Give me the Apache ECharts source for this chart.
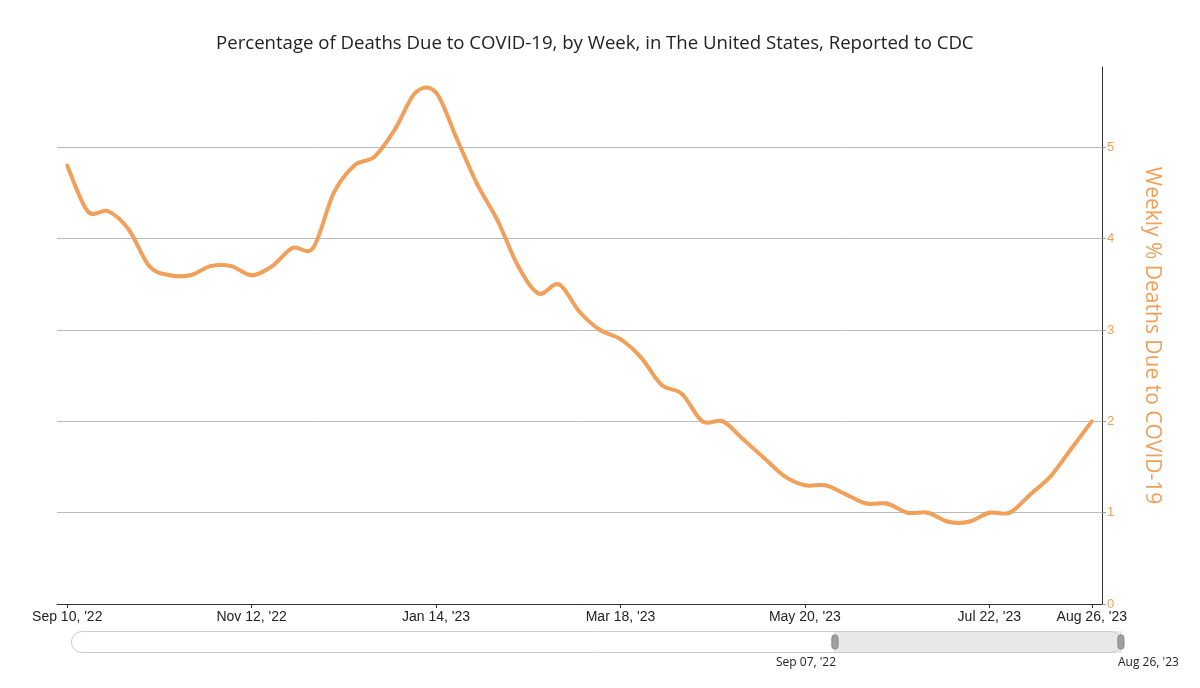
<!DOCTYPE html>
<html>
<head>
<meta charset="utf-8">
<script src="https://cdn.jsdelivr.net/npm/echarts@6/dist/echarts.min.js"></script>
<style>
html,body{margin:0;padding:0;background:#ffffff;}
#chart{width:1200px;height:688px;}
</style>
</head>
<body>
<div id="chart"></div>
<script>
// Week ending dates (category axis)
const weeks = [
  "Sep 10, '22","Sep 17, '22","Sep 24, '22","Oct 01, '22","Oct 08, '22","Oct 15, '22","Oct 22, '22","Oct 29, '22",
  "Nov 05, '22","Nov 12, '22","Nov 19, '22","Nov 26, '22","Dec 03, '22","Dec 10, '22","Dec 17, '22","Dec 24, '22",
  "Dec 31, '22","Jan 07, '23","Jan 14, '23","Jan 21, '23","Jan 28, '23","Feb 04, '23","Feb 11, '23","Feb 18, '23",
  "Feb 25, '23","Mar 04, '23","Mar 11, '23","Mar 18, '23","Mar 25, '23","Apr 01, '23","Apr 08, '23","Apr 15, '23",
  "Apr 22, '23","Apr 29, '23","May 06, '23","May 13, '23","May 20, '23","May 27, '23","Jun 03, '23","Jun 10, '23",
  "Jun 17, '23","Jun 24, '23","Jul 01, '23","Jul 08, '23","Jul 15, '23","Jul 22, '23","Jul 29, '23","Aug 05, '23",
  "Aug 12, '23","Aug 19, '23","Aug 26, '23"
];
// Weekly % of deaths due to COVID-19
const pctDeaths = [
  4.8, 4.3, 4.3, 4.1, 3.7, 3.6, 3.6, 3.7,
  3.7, 3.6, 3.7, 3.9, 3.9, 4.5, 4.8, 4.9,
  5.2, 5.6, 5.6, 5.1, 4.6, 4.2, 3.7, 3.4,
  3.5, 3.2, 3.0, 2.9, 2.7, 2.4, 2.3, 2.0,
  2.0, 1.8, 1.6, 1.4, 1.3, 1.3, 1.2, 1.1,
  1.1, 1.0, 1.0, 0.9, 0.9, 1.0, 1.0, 1.2,
  1.4, 1.7, 2.0
];
// Which weeks get an x tick label
const xTickLabels = ["Sep 10, '22","Nov 12, '22","Jan 14, '23","Mar 18, '23","May 20, '23","Jul 22, '23","Aug 26, '23"];
// Y axis ticks
const yTicks = [0, 1, 2, 3, 4, 5];
const yMax = 5.88;
// Range slider state and labels
const sliderRange = [72.6, 100];
const sliderLabels = ["Sep 07, '22", "Aug 26, '23"];

const orange = '#f0a05a';
const tickSet = new Set(xTickLabels.map(l => weeks.indexOf(l)));
const showTick = (idx) => tickSet.has(idx);

const chart = echarts.init(document.getElementById('chart'), null, {renderer: 'canvas'});

// Catmull-Rom style smooth curve through the data points, positioned by the axes' scales
function renderCurve(params, api) {
  if (params.dataIndex !== 0) return null;
  const pts = pctDeaths.map((v, i) => api.coord([i, v]));
  const n = pts.length;
  const children = [];
  for (let i = 0; i < n - 1; i++) {
    const p0 = pts[Math.max(i - 1, 0)];
    const p1 = pts[i];
    const p2 = pts[i + 1];
    const p3 = pts[Math.min(i + 2, n - 1)];
    children.push({
      type: 'bezierCurve',
      shape: {
        x1: p1[0], y1: p1[1],
        x2: p2[0], y2: p2[1],
        cpx1: p1[0] + (p2[0] - p0[0]) / 6,
        cpy1: p1[1] + (p2[1] - p0[1]) / 6,
        cpx2: p2[0] - (p3[0] - p1[0]) / 6,
        cpy2: p2[1] - (p3[1] - p1[1]) / 6
      },
      style: {stroke: orange, lineWidth: 4, fill: null, lineCap: 'round'}
    });
  }
  return {type: 'group', children: children};
}

const option = {
  backgroundColor: '#ffffff',
  animation: false,
  title: {
    text: 'Percentage of Deaths Due to COVID-19, by Week, in The United States, Reported to CDC',
    left: 211,
    top: 29,
    textStyle: {
      fontFamily: 'Open Sans',
      fontSize: 18.6,
      fontWeight: 'normal',
      color: '#222222'
    }
  },
  grid: {
    left: 57,
    right: 98,
    top: 67,
    bottom: 84,
    containLabel: false
  },
  xAxis: [
    {
      type: 'category',
      data: weeks,
      boundaryGap: true,
      axisLine: {show: true, lineStyle: {color: '#333333', width: 1}},
      axisTick: {show: true, interval: showTick, alignWithLabel: true, length: 4, lineStyle: {color: '#333333'}},
      axisLabel: {
        interval: showTick,
        color: '#222222',
        fontFamily: 'Liberation Sans',
        fontSize: 14,
        margin: 6
      },
      splitLine: {show: false}
    },
    {
      type: 'value',
      show: false,
      min: 0,
      max: 100,
      gridIndex: 0
    }
  ],
  yAxis: {
    type: 'value',
    position: 'right',
    min: yTicks[0],
    max: yMax,
    interval: 1,
    axisLine: {show: true, lineStyle: {color: '#333333', width: 1}},
    axisTick: {show: true, length: 4, lineStyle: {color: '#999999'}},
    axisLabel: {
      color: orange,
      fontFamily: 'Liberation Sans',
      fontSize: 13,
      margin: 5,
      showMaxLabel: false,
      formatter: (v) => (yTicks.indexOf(v) >= 0 ? String(v) : '')
    },
    splitLine: {show: true, showMaxLine: false, lineStyle: {color: '#bbbbbb', width: 1}},
    name: 'Weekly % Deaths Due to COVID-19',
    nameLocation: 'middle',
    nameRotate: -90,
    nameGap: 39,
    nameTextStyle: {
      color: orange,
      fontFamily: 'Open Sans',
      fontSize: 21
    }
  },
  dataZoom: [
    {
      type: 'slider',
      xAxisIndex: 1,
      filterMode: 'none',
      start: sliderRange[0],
      end: sliderRange[1],
      left: 70,
      right: 79,
      top: 631,
      height: 22,
      showDetail: false,
      showDataShadow: false,
      brushSelect: false,
      zoomLock: true,
      moveHandleSize: 0,
      backgroundColor: '#ffffff',
      borderColor: '#cccccc',
      borderRadius: 11,
      fillerColor: '#e8e8e8',
      handleIcon: 'path://M3,0 A3,3 0 0 1 6,3 L6,11 A3,3 0 0 1 3,14 A3,3 0 0 1 0,11 L0,3 A3,3 0 0 1 3,0 Z',
      handleSize: '65%',
      handleStyle: {color: '#a0a0a0', borderColor: '#888888', borderWidth: 1},
      emphasis: {handleStyle: {color: '#a0a0a0', borderColor: '#888888'}}
    }
  ],
  graphic: [
    {
      type: 'text',
      left: 776,
      top: 657,
      style: {text: sliderLabels[0], fontFamily: 'Open Sans', fontSize: 12, fill: '#222222'}
    },
    {
      type: 'text',
      left: 1118,
      top: 657,
      style: {text: sliderLabels[1], fontFamily: 'Open Sans', fontSize: 12, fill: '#222222'}
    }
  ],
  series: [
    {
      type: 'custom',
      name: 'Weekly % Deaths Due to COVID-19',
      xAxisIndex: 0,
      yAxisIndex: 0,
      data: pctDeaths.map((v, i) => [i, v]),
      encode: {x: 0, y: 1},
      renderItem: renderCurve,
      silent: true,
      z: 3
    }
  ]
};

chart.setOption(option);
</script>
</body>
</html>
